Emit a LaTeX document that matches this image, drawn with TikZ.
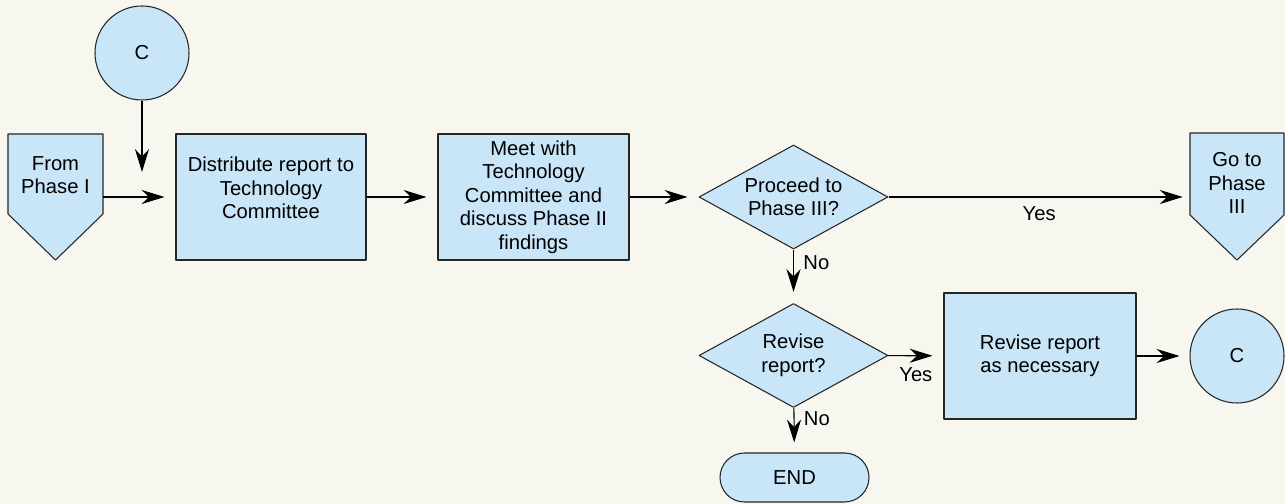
\documentclass[tikz,border=0pt]{standalone}
\usepackage{fontspec}
\setmainfont{Liberation Sans}
\usetikzlibrary{arrows.meta,shapes.geometric}
\definecolor{cream}{RGB}{247,246,239}
\definecolor{lblue}{RGB}{201,229,248}
\begin{document}
\begin{tikzpicture}[font=\fontsize{11.5}{13.4}\selectfont, line join=round, >={Stealth[length=13pt,width=8pt]},
  box/.style={draw=black!85, fill=lblue, line width=0.6pt, minimum width=3.82cm, minimum height=2.52cm, align=center},
  dec/.style={diamond, draw=black!85, fill=lblue, line width=0.6pt, minimum width=3.78cm, minimum height=2.08cm, aspect=1.82, inner sep=0pt, align=center},
  conn/.style={circle, draw=black!85, fill=lblue, line width=0.6pt, minimum size=1.88cm},
  sign/.style={draw=black!85, fill=lblue, line width=0.6pt},
  arr/.style={->, line width=0.6pt, shorten >=0.22cm}]
\fill[cream] (0,0) rectangle (25.7,10.08);
\useasboundingbox (0,0) rectangle (25.7,10.08);
% off-page signs
\draw[sign] (0.16,7.40)--(2.06,7.40)--(2.06,5.80)--(1.11,4.88)--(0.16,5.80)--cycle;
\draw[sign] (23.80,7.42)--(25.68,7.42)--(25.68,5.78)--(24.74,4.88)--(23.80,5.78)--cycle;
\node[align=center, minimum width=1.9cm] (from) at (1.11,6.58) {From\\Phase I};
\node[align=center, minimum width=1.88cm] (goto) at (24.74,6.42) {Go to\\Phase\\III};
% top row
\node[conn] (c1) at (2.84,9.02) {C};
\coordinate (cin) at (2.84,6.64);
\node[box, minimum width=3.80cm, text depth=0.36cm] (dist) at (5.42,6.14) {Distribute report to\\Technology\\Committee};
\node[box] (meet) at (10.67,6.14) {Meet with\\Technology\\Committee and\\discuss Phase II\\findings};
\node[dec] (next) at (15.87,6.14) {Proceed to\\Phase III?};
% lower part
\node[dec] (rev) at (15.87,2.97) {Revise\\report?};
\node[box, minimum width=3.84cm] (fix) at (20.80,2.96) {Revise report\\as necessary};
\node[conn] (c2) at (24.74,2.96) {C};
\node[draw=black!85, fill=lblue, line width=0.6pt, rounded corners=0.49cm, minimum width=2.98cm, minimum height=0.98cm] (end) at (15.89,0.53) {END};
% connectors
\draw[->, line width=0.6pt] (c1) -- (cin);
\draw[arr] (from.east |- dist) -- (dist);
\draw[arr] (dist) -- (meet);
\draw[arr] (meet) -- (next);
\draw[arr, shorten >=0.14cm] (next) -- (goto.west |- next) node[midway, below=2pt] {Yes};
\draw[arr] (next) -- (rev) node[pos=0.25, right=2pt] {No};
\draw[arr] (rev) -- (fix) node[pos=0.5, below=3pt] {Yes};
\draw[arr, shorten >=0.2cm] (fix) -- (c2);
\draw[arr, shorten >=0.2cm] (rev) -- (end) node[pos=0.25, right=2pt] {No};
\end{tikzpicture}
\end{document}
